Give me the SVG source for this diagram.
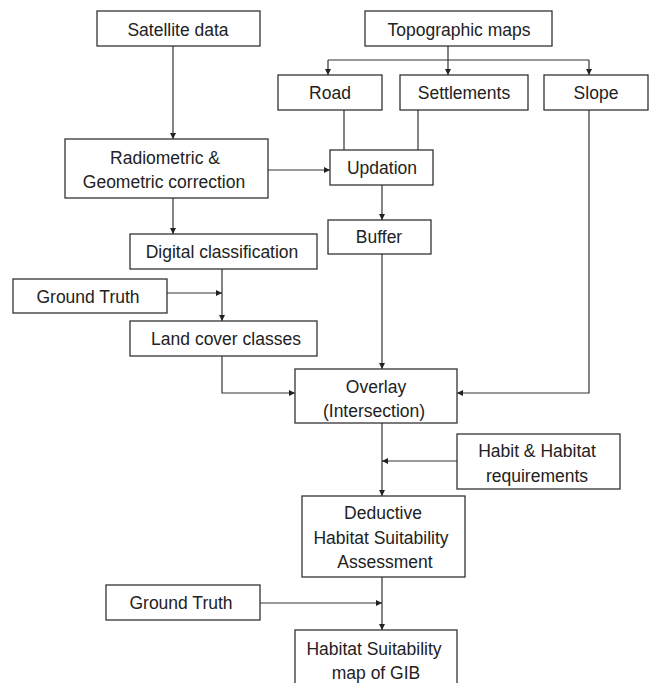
<svg xmlns="http://www.w3.org/2000/svg" width="650" height="683" viewBox="0 0 650 683">
<style>
.box{fill:#fff;stroke:#333;stroke-width:1.3}
.ln{fill:none;stroke:#333;stroke-width:1.2}
.ar{marker-end:url(#ah)}
text{font-family:"Liberation Sans",Arial,sans-serif;font-size:17.5px;fill:#222;text-anchor:middle}
</style>
<defs>
<marker id="ah" viewBox="0 0 10 10" refX="10" refY="5" markerWidth="7" markerHeight="6" markerUnits="userSpaceOnUse" orient="auto">
<path d="M0,0 L10,5 L0,10 z" fill="#222"/>
</marker>
</defs>
<rect width="650" height="683" fill="#fff"/>
<g id="connectors">
<path class="ln ar" d="M173,46 V139"/>
<path class="ln" d="M448,46 V60 M328,60 H589"/>
<path class="ln ar" d="M328,60 V75"/>
<path class="ln ar" d="M448,60 V75"/>
<path class="ln ar" d="M589,60 V75"/>
<path class="ln" d="M344,110 V150 M418,110 V150"/>
<path class="ln ar" d="M268,170 H330"/>
<path class="ln ar" d="M382,185 V220"/>
<path class="ln ar" d="M173,198 V234"/>
<path class="ln ar" d="M167,293 H222"/>
<path class="ln ar" d="M222,269 V321"/>
<path class="ln ar" d="M222,356 V393 H295"/>
<path class="ln ar" d="M382,254 V369"/>
<path class="ln ar" d="M589,110 V393 H457"/>
<path class="ln ar" d="M382,423 V496"/>
<path class="ln ar" d="M457,461 H382"/>
<path class="ln ar" d="M382,577 V630"/>
<path class="ln ar" d="M260,603 H382"/>
</g>
<g id="satellite"><rect class="box" x="97" y="11" width="163" height="35"/><text x="178" y="36">Satellite data</text></g>
<g id="topo"><rect class="box" x="365" y="11" width="187" height="35"/><text x="459" y="36">Topographic maps</text></g>
<g id="road"><rect class="box" x="278" y="75" width="104" height="35"/><text x="330" y="99">Road</text></g>
<g id="settlements"><rect class="box" x="400" y="75" width="128" height="35"/><text x="464" y="99">Settlements</text></g>
<g id="slope"><rect class="box" x="544" y="75" width="104" height="35"/><text x="596" y="99">Slope</text></g>
<g id="radiometric"><rect class="box" x="65" y="139" width="203" height="59"/><text x="165" y="164">Radiometric &amp;</text><text x="164" y="188">Geometric correction</text></g>
<g id="updation"><rect class="box" x="330" y="150" width="103" height="35"/><text x="382" y="174">Updation</text></g>
<g id="buffer"><rect class="box" x="328" y="220" width="103" height="34"/><text x="379" y="243">Buffer</text></g>
<g id="digital"><rect class="box" x="130" y="234" width="187" height="35"/><text x="222" y="258">Digital classification</text></g>
<g id="ground1"><rect class="box" x="13" y="279" width="154" height="34"/><text x="88" y="303">Ground Truth</text></g>
<g id="landcover"><rect class="box" x="130" y="321" width="187" height="35"/><text x="226" y="345">Land cover classes</text></g>
<g id="overlay"><rect class="box" x="295" y="369" width="162" height="54"/><text x="376" y="393">Overlay</text><text x="374" y="417">(Intersection)</text></g>
<g id="habit"><rect class="box" x="457" y="434" width="163" height="55"/><text x="537" y="457">Habit &amp; Habitat</text><text x="537" y="482">requirements</text></g>
<g id="deductive"><rect class="box" x="302" y="496" width="163" height="81"/><text x="383" y="519">Deductive</text><text x="381" y="544">Habitat Suitability</text><text x="385" y="568">Assessment</text></g>
<g id="ground2"><rect class="box" x="106" y="585" width="154" height="35"/><text x="181" y="609">Ground Truth</text></g>
<g id="map"><rect class="box" x="295" y="630" width="162" height="70"/><text x="374" y="655">Habitat Suitability</text><text x="376" y="679">map of GIB</text></g>
</svg>
